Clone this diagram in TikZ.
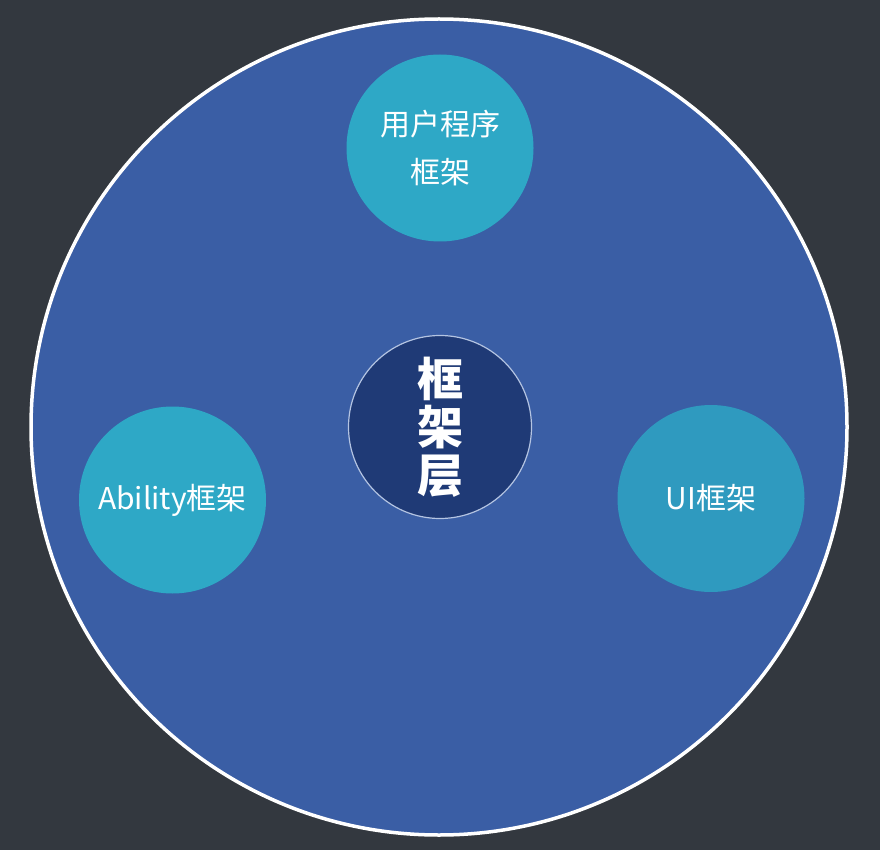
\documentclass[tikz,border=0pt]{standalone}
\usepackage{fontspec}
\setmainfont{Noto Sans CJK SC}
\definecolor{bgc}{HTML}{33383F}
\definecolor{bigc}{HTML}{3A5EA5}
\definecolor{tealc}{HTML}{2EA8C6}
\definecolor{tealr}{HTML}{2F9ABF}
\definecolor{navyc}{HTML}{1F3A76}
\definecolor{rimc}{HTML}{B4C4E2}
\begin{document}
\begin{tikzpicture}[x=1pt,y=-1pt,
  sub/.style={circle,minimum size=187pt,inner sep=0pt,text=white,align=center,font=\fontsize{30}{48}\selectfont},
]
\fill[bgc] (0,0) rectangle (880,850);
\useasboundingbox (0,0) rectangle (880,850);
\node[circle,draw=white,line width=3.5pt,fill=bigc,minimum size=816pt,inner sep=0pt] (big) at (439,427) {};
\node[sub,fill=tealc] (top) at (440,148) {用户程序\\框架};
\node[sub,fill=tealc] (left) at (172.5,500) {Ability框架};
\node[sub,fill=tealr] (right) at (711,498.5) {UI框架};
\node[circle,draw=rimc,line width=1.2pt,fill=navyc,minimum size=183pt,inner sep=0pt,text=white,align=center,font=\bfseries\fontsize{46}{48}\selectfont] (core) at (440,427) {框\\架\\层};
\end{tikzpicture}
\end{document}
